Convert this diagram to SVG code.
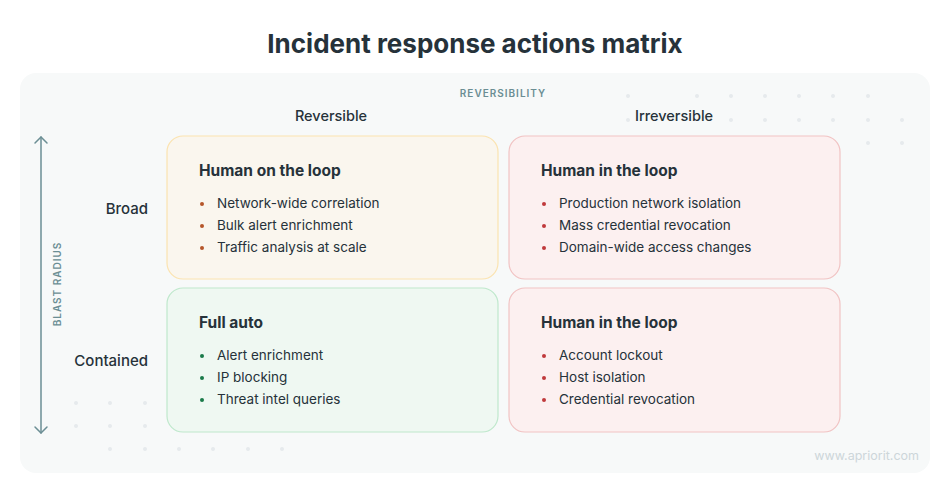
<svg xmlns="http://www.w3.org/2000/svg" width="950" height="495" viewBox="0 0 950 495">
<defs>
<style>
text{font-family:Inter,"Noto Sans","Liberation Sans",sans-serif;fill:#26323a}
.title{font-size:26px;font-weight:700;text-anchor:middle}
.axis{font-size:10px;font-weight:600;letter-spacing:1px;fill:#6b8e94}
.col{font-size:14.5px;font-weight:500;text-anchor:middle}
.row{font-size:15px;font-weight:500;text-anchor:end}
.h{font-size:15.5px;font-weight:700}
.li{font-size:13.5px;font-weight:400}
.dot{fill:#e6eaed}
.amber{fill:#faf6ee;stroke:#fbe3b0;stroke-width:1.2}
.red{fill:#fcf0f0;stroke:#f1c3c3;stroke-width:1.2}
.green{fill:#eff8f2;stroke:#bfe8cc;stroke-width:1.2}
.ba{fill:#b5562a}.br{fill:#c0393b}.bg{fill:#1a7a4a}
.wm{font-size:12.5px;fill:#cdd6da;text-anchor:end}
</style>
</defs>
<rect width="950" height="495" fill="#ffffff"/>
<text class="title" x="475" y="53">Incident response actions matrix</text>
<rect x="20" y="73" width="910" height="400" rx="16" fill="#f7f9f9"/>
<g id="dots">
<circle class="dot" cx="628" cy="96" r="2"/><circle class="dot" cx="697" cy="96" r="2"/><circle class="dot" cx="731" cy="96" r="2"/><circle class="dot" cx="765" cy="96" r="2"/><circle class="dot" cx="799" cy="96" r="2"/><circle class="dot" cx="833" cy="96" r="2"/><circle class="dot" cx="868" cy="96" r="2"/>
<circle class="dot" cx="628" cy="120" r="2"/><circle class="dot" cx="731" cy="120" r="2"/><circle class="dot" cx="765" cy="120" r="2"/><circle class="dot" cx="799" cy="120" r="2"/><circle class="dot" cx="833" cy="120" r="2"/><circle class="dot" cx="868" cy="120" r="2"/><circle class="dot" cx="902" cy="120" r="2"/>
<circle class="dot" cx="868" cy="143" r="2"/><circle class="dot" cx="902" cy="143" r="2"/>
<circle class="dot" cx="76" cy="403" r="2"/><circle class="dot" cx="110" cy="403" r="2"/><circle class="dot" cx="145" cy="403" r="2"/>
<circle class="dot" cx="76" cy="426" r="2"/><circle class="dot" cx="110" cy="426" r="2"/><circle class="dot" cx="145" cy="426" r="2"/>
<circle class="dot" cx="110" cy="449" r="2"/><circle class="dot" cx="145" cy="449" r="2"/><circle class="dot" cx="179" cy="449" r="2"/><circle class="dot" cx="213" cy="449" r="2"/><circle class="dot" cx="248" cy="449" r="2"/><circle class="dot" cx="282" cy="449" r="2"/>
</g>
<text class="axis" x="503" y="97" text-anchor="middle">REVERSIBILITY</text>
<text class="col" x="331" y="121">Reversible</text>
<text class="col" x="674" y="121">Irreversible</text>
<text class="row" x="148" y="214">Broad</text>
<text class="row" x="148" y="366">Contained</text>
<g id="connectors" stroke="#6b8e94" stroke-width="1.5" fill="none" stroke-linecap="round" stroke-linejoin="round">
<line x1="41" y1="137" x2="41" y2="433"/>
<polyline points="35,143 41,137 47,143"/>
<polyline points="35,427 41,433 47,427"/>
</g>
<text class="axis" transform="translate(61 284) rotate(-90)" text-anchor="middle">BLAST RADIUS</text>
<g id="q-broad-reversible">
<rect class="amber" x="167" y="136" width="331" height="143" rx="16"/>
<text class="h" x="199" y="176">Human on the loop</text>
<circle class="ba" cx="202" cy="204" r="2"/><text class="li" x="217" y="208">Network-wide correlation</text>
<circle class="ba" cx="202" cy="226" r="2"/><text class="li" x="217" y="230">Bulk alert enrichment</text>
<circle class="ba" cx="202" cy="248" r="2"/><text class="li" x="217" y="252">Traffic analysis at scale</text>
</g>
<g id="q-broad-irreversible">
<rect class="red" x="509" y="136" width="331" height="143" rx="16"/>
<text class="h" x="541" y="176">Human in the loop</text>
<circle class="br" cx="544" cy="204" r="2"/><text class="li" x="559" y="208">Production network isolation</text>
<circle class="br" cx="544" cy="226" r="2"/><text class="li" x="559" y="230">Mass credential revocation</text>
<circle class="br" cx="544" cy="248" r="2"/><text class="li" x="559" y="252">Domain-wide access changes</text>
</g>
<g id="q-contained-reversible">
<rect class="green" x="167" y="288" width="331" height="144" rx="16"/>
<text class="h" x="199" y="328">Full auto</text>
<circle class="bg" cx="202" cy="356" r="2"/><text class="li" x="217" y="360">Alert enrichment</text>
<circle class="bg" cx="202" cy="378" r="2"/><text class="li" x="217" y="382">IP blocking</text>
<circle class="bg" cx="202" cy="400" r="2"/><text class="li" x="217" y="404">Threat intel queries</text>
</g>
<g id="q-contained-irreversible">
<rect class="red" x="509" y="288" width="331" height="144" rx="16"/>
<text class="h" x="541" y="328">Human in the loop</text>
<circle class="br" cx="544" cy="356" r="2"/><text class="li" x="559" y="360">Account lockout</text>
<circle class="br" cx="544" cy="378" r="2"/><text class="li" x="559" y="382">Host isolation</text>
<circle class="br" cx="544" cy="400" r="2"/><text class="li" x="559" y="404">Credential revocation</text>
</g>
<text class="wm" x="919" y="460">www.apriorit.com</text>
</svg>
